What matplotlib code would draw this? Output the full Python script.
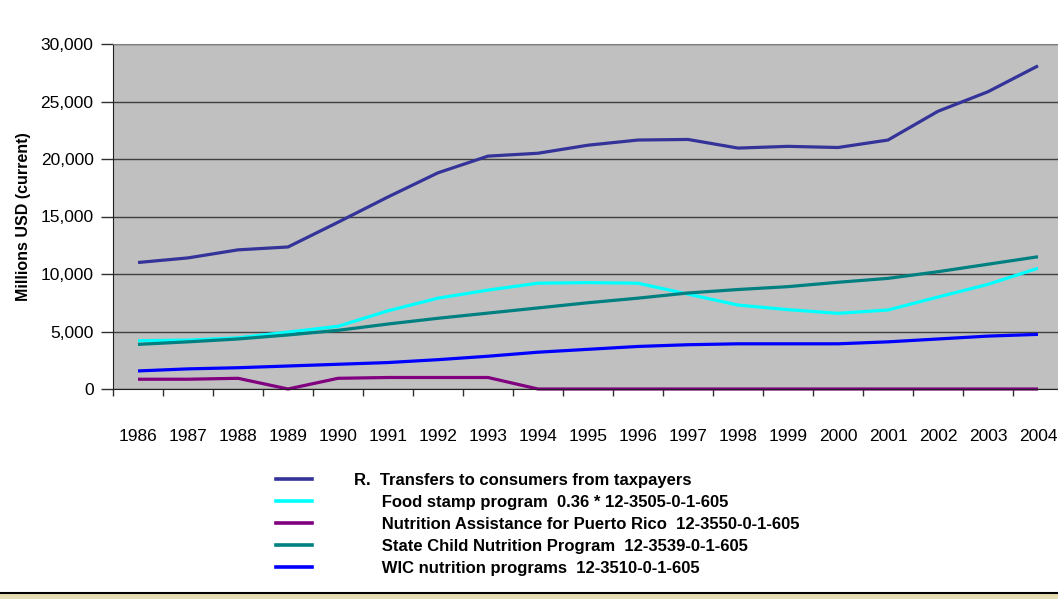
import matplotlib
matplotlib.use("Agg")
import matplotlib.pyplot as plt
from matplotlib.patches import Rectangle
from matplotlib.lines import Line2D

plt.rcParams['font.family'] = ['Liberation Sans', 'DejaVu Sans']

years = list(range(1986, 2005))

transfers = [11000, 11400, 12100, 12350, 14500, 16700, 18800, 20250, 20500, 21200,
             21650, 21700, 20950, 21100, 21000, 21650, 24150, 25850, 28100]
food_stamp = [4200, 4250, 4450, 4950, 5450, 6800, 7900, 8600, 9200, 9250,
              9200, 8250, 7300, 6900, 6580, 6870, 8000, 9100, 10500]
puerto_rico = [850, 850, 930, 0, 930, 1000, 1000, 1000, 0, 0,
               0, 0, 0, 0, 0, 0, 0, 0, 0]
child_nutrition = [3880, 4100, 4350, 4700, 5100, 5650, 6150, 6600, 7050, 7500,
                   7900, 8350, 8650, 8900, 9280, 9620, 10200, 10850, 11500]
wic = [1570, 1750, 1850, 2000, 2150, 2300, 2550, 2850, 3200, 3450,
       3700, 3850, 3930, 3930, 3930, 4100, 4350, 4600, 4750]

labels = ["R.  Transfers to consumers from taxpayers",
          "      Food stamp program  0.36 * 12-3505-0-1-605",
          "      Nutrition Assistance for Puerto Rico  12-3550-0-1-605",
          "      State Child Nutrition Program  12-3539-0-1-605",
          "      WIC nutrition programs  12-3510-0-1-605"]
colors = ['#333399', '#00FFFF', '#800080', '#008080', '#0000FF']
series = [transfers, food_stamp, puerto_rico, child_nutrition, wic]

fig = plt.figure(figsize=(10.58, 5.99), dpi=100)
ax = fig.add_axes([113 / 1058, 210 / 599, 950 / 1058, 345 / 599])
ax.set_facecolor('#C0C0C0')

x = list(range(len(years)))
for s, c, lab in zip(series, colors, labels):
    ax.plot(x, s, color=c, lw=2.3, label=lab, clip_on=False, solid_capstyle='butt')

ax.set_xlim(-0.5, len(years) - 0.5)
ax.set_ylim(0, 30000)
ax.set_yticks(range(0, 30001, 5000))
ax.set_yticklabels([f"{v:,}" for v in range(0, 30001, 5000)], fontsize=12.5)
ax.yaxis.grid(True, color='#404040', lw=1)
ax.set_axisbelow(True)

ax.set_xticks([i - 0.5 for i in range(len(years) + 1)])
ax.set_xticklabels([])
ax.set_xticks(x, minor=True)
ax.set_xticklabels([str(y) for y in years], minor=True, fontsize=12.5)
ax.tick_params(axis='x', which='major', length=5, width=1, direction='out', color='#303030')
ax.tick_params(axis='x', which='minor', length=0, pad=29)
ax.tick_params(axis='y', length=9, width=1, direction='out', color='#303030', pad=5)

ax.spines['right'].set_visible(False)
ax.spines['top'].set_color('#808080')
ax.spines['left'].set_color('#202020')
ax.spines['bottom'].set_color('#202020')

ax.set_ylabel("Millions USD (current)", fontsize=11.5, fontweight='bold', labelpad=7)

handles = [Line2D([0], [0], color=c, lw=2.6) for c in colors]
leg = fig.legend(handles, labels, loc='upper left', bbox_to_anchor=(269 / 1058, 1 - 466 / 599),
                 frameon=False, prop={'weight': 'bold', 'size': 12},
                 handlelength=2.2, handletextpad=2.5, labelspacing=0.42, borderaxespad=0)

fig.patches.append(Rectangle((0, 0), 1, 6 / 599, transform=fig.transFigure,
                             facecolor='#E6DCB4', edgecolor='none'))
fig.add_artist(Line2D([0, 1], [6 / 599, 6 / 599], transform=fig.transFigure,
                      color='black', lw=1.5))

fig.savefig("out.png", dpi=100)
